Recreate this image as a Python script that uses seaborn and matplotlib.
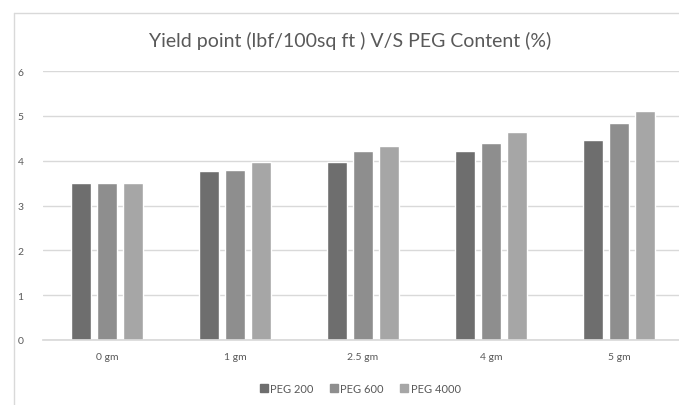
import matplotlib
matplotlib.use('Agg')
import matplotlib.pyplot as plt
from matplotlib.lines import Line2D
import seaborn as sns
import pandas as pd

# values
contents = ['0 gm', '1 gm', '2.5 gm', '4 gm', '5 gm']
peg_200 = [3.5, 3.76, 3.98, 4.22, 4.45]
peg_600 = [3.5, 3.79, 4.22, 4.40, 4.85]
peg_4000 = [3.5, 3.98, 4.32, 4.63, 5.10]
series = ['PEG 200', 'PEG 600', 'PEG 4000']
y_ticks = [0, 1, 2, 3, 4, 5, 6]

df = pd.DataFrame({
    'content': contents * 3,
    'value': peg_200 + peg_600 + peg_4000,
    'series': [s for s in series for _ in contents],
})

sns.set_theme(style='white')
plt.rcParams['font.family'] = ['Lato', 'DejaVu Sans']

colors = ['#6e6e6e', '#8e8e8e', '#a6a6a6']
text_grey = '#595959'

fig = plt.figure(figsize=(6.79, 4.06), dpi=100)
ax = fig.add_axes([43 / 679, 65 / 406, 640 / 679, 269 / 406])

sns.barplot(data=df, x='content', y='value', hue='series', palette=colors,
            width=0.61, gap=0.2, ax=ax, legend=False, saturation=1)

ax.set_ylim(0, 6)
ax.set_yticks(y_ticks)
ax.set_xlim(-0.5, len(contents) - 0.5)
ax.yaxis.grid(True, color='#d9d9d9', linewidth=1)
ax.set_axisbelow(True)
for side in ['top', 'right', 'left']:
    ax.spines[side].set_visible(False)
ax.spines['bottom'].set_color('#d9d9d9')
ax.tick_params(axis='both', length=0, labelsize=7.5, labelcolor=text_grey)
ax.tick_params(axis='y', pad=14)
ax.tick_params(axis='x', pad=9)
ax.set_xlabel('')
ax.set_ylabel('')

fig.text(0.515, 0.9, 'Yield point (lbf/100sq ft ) V/S PEG Content (%)',
         ha='center', va='center', fontsize=14, color=text_grey)

# outer chart frame
fig.add_artist(Line2D([14 / 679, 1], [1 - 14 / 406, 1 - 14 / 406],
                      color='#d9d9d9', lw=1))
fig.add_artist(Line2D([14 / 679, 14 / 679], [0, 1 - 14 / 406],
                      color='#d9d9d9', lw=1))

handles = [Line2D([0], [0], marker='s', linestyle='', markersize=5.5,
                  markerfacecolor=c, markeredgecolor=c) for c in colors]
fig.legend(handles, series, loc='center', bbox_to_anchor=(0.53, 0.04),
           ncol=3, frameon=False, fontsize=8, labelcolor=text_grey,
           handletextpad=0.2, columnspacing=1.4, handlelength=0.8)

fig.savefig('out.png', dpi=100)
